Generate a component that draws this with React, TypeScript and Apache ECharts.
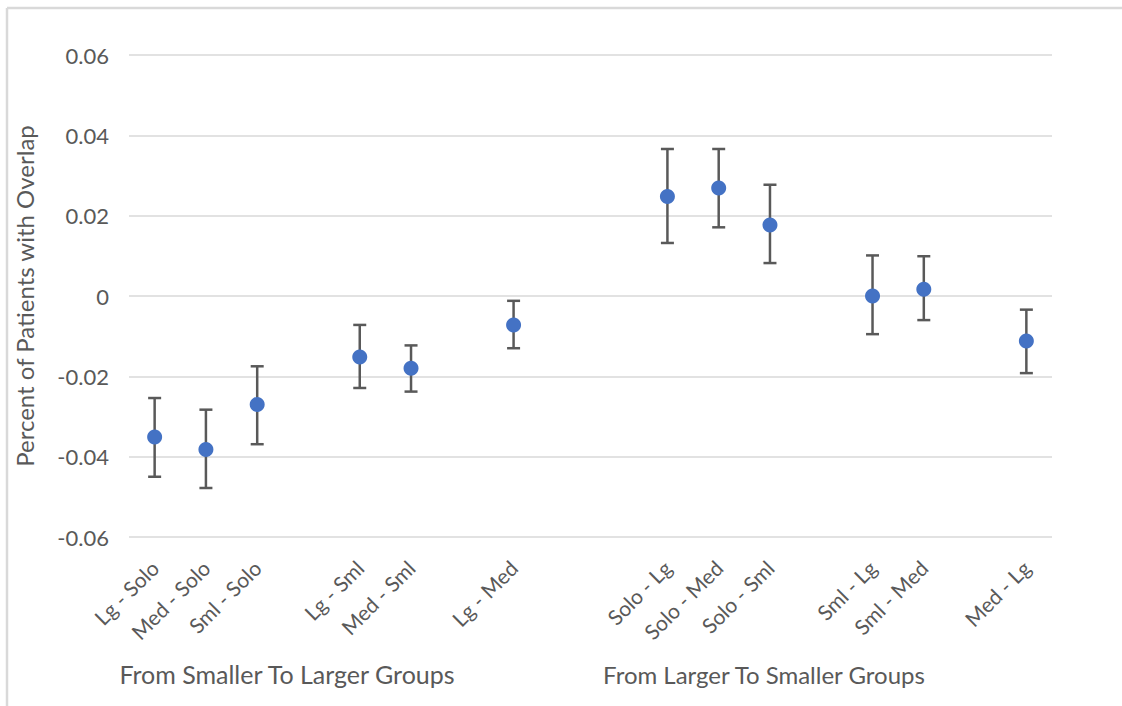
import React, { useEffect, useRef } from "react";
import * as echarts from "echarts";

const categories = [
  "Lg - Solo", "Med - Solo", "Sml - Solo", "",
  "Lg - Sml", "Med - Sml", "",
  "Lg - Med", "", "",
  "Solo - Lg", "Solo - Med", "Solo - Sml", "",
  "Sml - Lg", "Sml - Med", "",
  "Med - Lg",
];

// null = empty slot in the category axis
const values: (number | null)[] = [
  -0.0351, -0.0382, -0.0270, null,
  -0.0152, -0.0180, null,
  -0.0072, null, null,
  0.0248, 0.0269, 0.0177, null,
  0.0, 0.0017, null,
  -0.0112,
];

const upper: (number | null)[] = [
  -0.0254, -0.0283, -0.0175, null,
  -0.0072, -0.0123, null,
  -0.0012, null, null,
  0.0366, 0.0366, 0.0277, null,
  0.0101, 0.0099, null,
  -0.0034,
];

const lower: (number | null)[] = [
  -0.0450, -0.0478, -0.0369, null,
  -0.0229, -0.0238, null,
  -0.0130, null, null,
  0.0132, 0.0171, 0.0082, null,
  -0.0095, -0.0060, null,
  -0.0192,
];

const groupLabels = ["From Smaller To Larger Groups", "From Larger To Smaller Groups"];
const yTicks = { min: -0.06, max: 0.06, interval: 0.02 };

const FONT = "Lato, 'Open Sans', sans-serif";
const TEXT = "#595959";

export default function App() {
  const ref = useRef<HTMLDivElement>(null);
  useEffect(() => {
    if (!ref.current) return;
    const chart = echarts.init(ref.current, undefined, { renderer: "svg" });
    const scatterData = values.map((v, i) => (v === null ? null : [i, v]));
    const errData = values
      .map((v, i) => (v === null ? null : [i, lower[i], upper[i]]))
      .filter((d) => d !== null);
    chart.setOption({
      animation: false,
      backgroundColor: "#ffffff",
      textStyle: { fontFamily: FONT },
      grid: { left: 129, right: 70, top: 55, bottom: 169, containLabel: false },
      xAxis: {
        type: "category",
        data: categories,
        boundaryGap: true,
        axisLine: { show: false },
        axisTick: { show: false },
        splitLine: { show: false },
        axisLabel: {
          interval: 0,
          rotate: 45,
          margin: 27,
          color: TEXT,
          fontSize: 21,
          fontFamily: FONT,
        },
      },
      yAxis: {
        type: "value",
        min: yTicks.min,
        max: yTicks.max,
        interval: yTicks.interval,
        name: "Percent of Patients with Overlap",
        nameLocation: "middle",
        nameRotate: 90,
        nameGap: 93,
        nameTextStyle: { color: TEXT, fontSize: 24, fontFamily: FONT },
        axisLine: { show: false },
        axisTick: { show: false },
        splitLine: { lineStyle: { color: "#d9d9d9", width: 1.5 } },
        axisLabel: {
          color: TEXT,
          fontSize: 22,
          fontFamily: FONT,
          margin: 20,
          formatter: (v: number) => (Math.abs(v) < 1e-9 ? "0" : v.toFixed(2)),
        },
      },
      series: [
        {
          type: "custom",
          data: errData,
          z: 2,
          renderItem: (params: any, api: any) => {
            const x = api.value(0);
            const lo = api.coord([x, api.value(1)]);
            const hi = api.coord([x, api.value(2)]);
            const half = 6.5;
            const style = { stroke: "#595959", lineWidth: 2.5 };
            return {
              type: "group",
              children: [
                { type: "line", shape: { x1: lo[0], y1: lo[1], x2: hi[0], y2: hi[1] }, style },
                { type: "line", shape: { x1: lo[0] - half, y1: lo[1], x2: lo[0] + half, y2: lo[1] }, style },
                { type: "line", shape: { x1: hi[0] - half, y1: hi[1], x2: hi[0] + half, y2: hi[1] }, style },
              ],
            };
          },
        },
        {
          type: "scatter",
          data: scatterData,
          symbol: "circle",
          symbolSize: 15,
          itemStyle: { color: "#4472C4", opacity: 1 },
          z: 3,
        },
      ],
      graphic: [
        { type: "line", shape: { x1: 7, y1: 8, x2: 1122, y2: 8 }, style: { stroke: "#d9d9d9", lineWidth: 2.5 } },
        { type: "line", shape: { x1: 7, y1: 8, x2: 7, y2: 706 }, style: { stroke: "#d9d9d9", lineWidth: 2.5 } },
        {
          type: "text",
          x: 287,
          y: 674,
          style: { text: groupLabels[0], fill: TEXT, font: `25px ${FONT}`, textAlign: "center", textVerticalAlign: "middle" },
        },
        {
          type: "text",
          x: 764,
          y: 674,
          style: { text: groupLabels[1], fill: TEXT, font: `24px ${FONT}`, textAlign: "center", textVerticalAlign: "middle" },
        },
      ],
    });
    return () => chart.dispose();
  }, []);
  return (
    <div
      ref={ref}
      style={{ position: "absolute", left: 0, top: 0, width: 1122, height: 706, background: "#fff" }}
    />
  );
}
